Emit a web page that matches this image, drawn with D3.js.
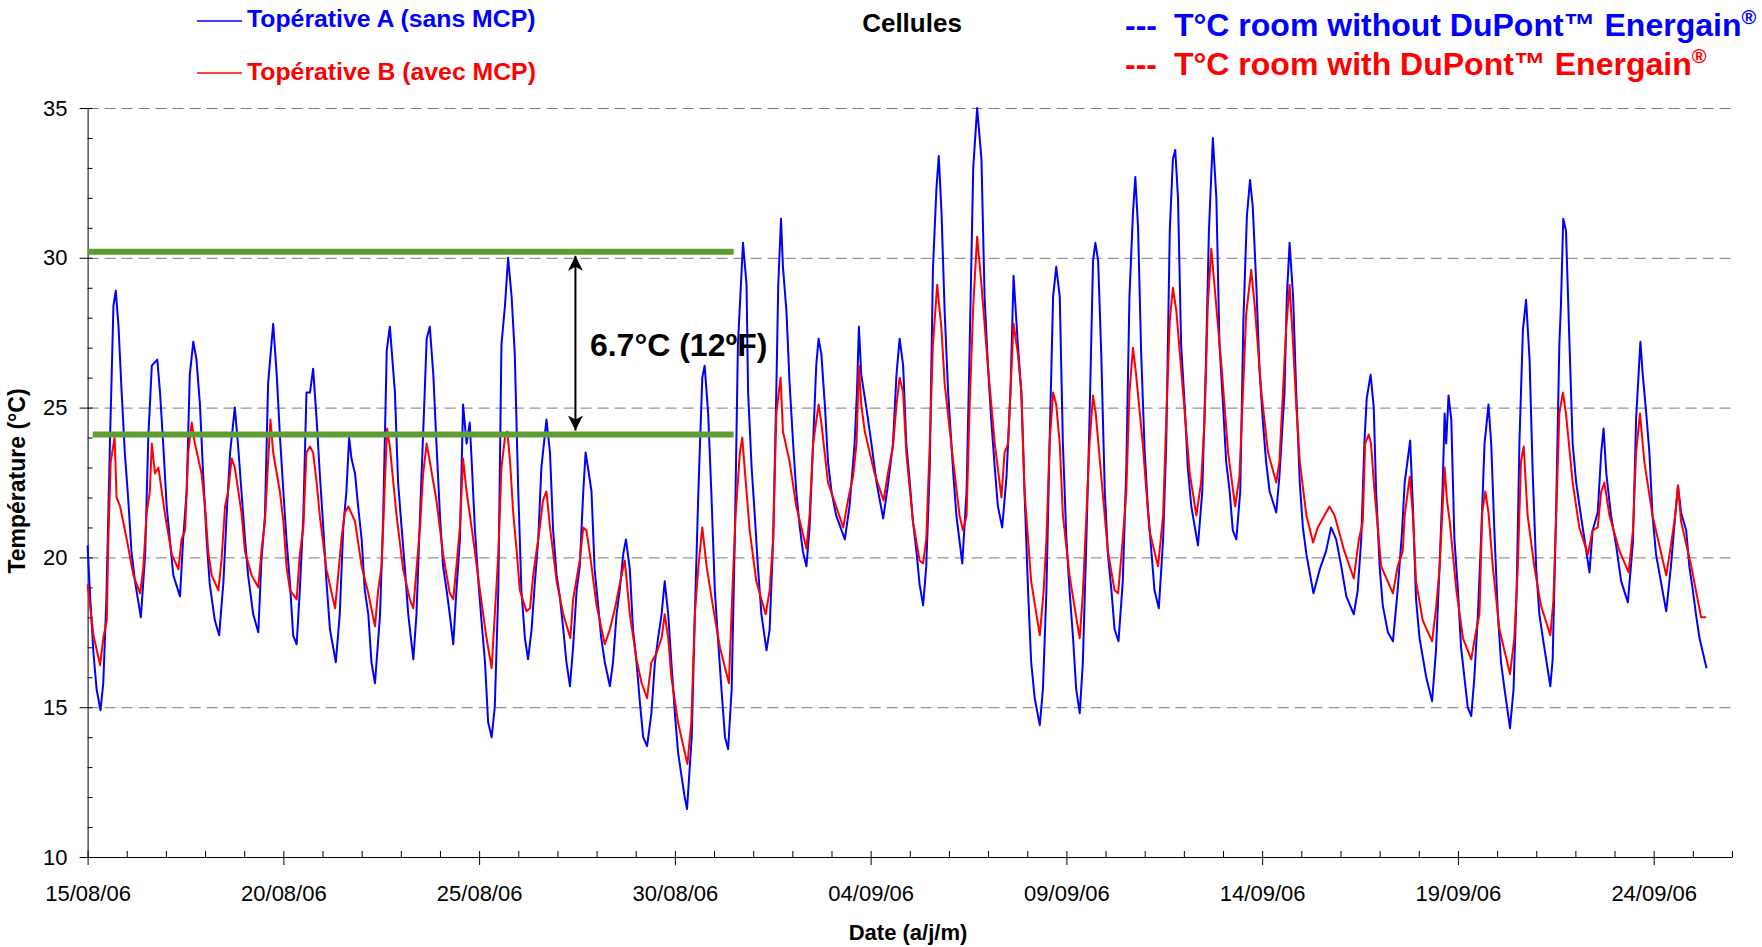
<!DOCTYPE html>
<html>
<head>
<meta charset="utf-8">
<script src="https://cdn.jsdelivr.net/npm/d3@7"></script>
<style>
  body { margin: 0; background: #fff; }
  text { font-family: "Liberation Sans", Arial, Helvetica, sans-serif; }
</style>
</head>
<body>
<svg id="chart"></svg>
<script>
// days since 15/08/06 00:00, temperature in °C
const topA = [
  [0.00,20.4],[0.06,18.8],[0.15,16.8],[0.23,15.6],[0.33,14.9],[0.40,15.8],[0.48,18.6],[0.57,23.8],[0.66,28.4],[0.72,28.9],[0.79,27.7],[0.87,25.5],[0.95,23.5],
  [1.04,21.9],[1.12,20.2],[1.21,19.2],[1.36,18.0],[1.47,20.1],[1.55,24.0],[1.64,26.4],[1.78,26.6],[1.85,25.5],[1.93,23.8],
  [2.02,21.7],[2.10,20.6],[2.19,19.4],[2.36,18.7],[2.44,20.6],[2.53,22.2],[2.61,26.1],[2.70,27.2],[2.78,26.6],[2.87,25.1],[2.95,22.8],
  [3.04,20.6],[3.12,19.1],[3.25,17.9],[3.36,17.4],[3.47,19.2],[3.55,21.4],[3.64,23.5],[3.76,25.0],[3.84,23.8],[3.93,22.2],
  [4.02,20.6],[4.10,19.4],[4.23,18.1],[4.36,17.5],[4.44,19.9],[4.53,21.4],[4.61,25.8],[4.74,27.8],[4.83,26.1],[4.91,24.1],
  [5.00,22.2],[5.08,20.6],[5.17,19.1],[5.25,17.4],[5.34,17.1],[5.42,18.9],[5.51,21.4],[5.59,25.5],[5.68,25.5],[5.76,26.3],[5.85,24.6],[5.93,22.8],
  [6.02,21.0],[6.10,19.2],[6.19,17.6],[6.34,16.5],[6.44,18.1],[6.53,21.0],[6.61,22.2],[6.68,24.0],[6.74,23.3],[6.83,22.8],[6.91,21.7],
  [7.00,20.6],[7.08,18.9],[7.17,18.1],[7.25,16.5],[7.34,15.8],[7.47,18.1],[7.55,21.4],[7.64,26.9],[7.72,27.7],[7.85,25.5],[7.93,22.5],
  [8.02,21.0],[8.10,19.7],[8.19,18.1],[8.32,16.6],[8.40,18.1],[8.49,21.4],[8.61,25.5],[8.66,27.3],[8.74,27.7],[8.83,26.1],[8.91,23.8],
  [9.00,21.4],[9.08,19.7],[9.17,18.9],[9.25,18.1],[9.34,17.1],[9.42,18.9],[9.51,20.6],[9.59,25.1],[9.68,23.8],[9.76,24.5],[9.81,23.2],[9.89,21.0],[9.98,19.2],
  [10.06,17.9],[10.15,16.5],[10.23,14.5],[10.32,14.0],[10.40,15.0],[10.49,18.9],[10.57,27.1],[10.66,28.4],[10.74,30.0],[10.83,28.7],[10.91,26.8],
  [11.00,22.2],[11.08,18.9],[11.17,17.3],[11.25,16.6],[11.34,17.6],[11.42,19.1],[11.51,20.6],[11.59,23.0],[11.72,24.6],[11.81,23.5],[11.89,20.9],[11.98,19.4],
  [12.06,18.7],[12.15,17.6],[12.23,16.5],[12.32,15.7],[12.40,17.0],[12.49,18.9],[12.57,19.7],[12.66,22.2],[12.72,23.5],[12.78,23.0],[12.87,22.2],[12.95,19.6],
  [13.04,18.4],[13.12,17.3],[13.21,16.5],[13.34,15.7],[13.42,16.5],[13.51,18.1],[13.59,18.9],[13.68,20.1],[13.75,20.6],[13.85,19.6],[13.93,17.6],
  [14.02,16.5],[14.11,15.1],[14.19,14.0],[14.29,13.7],[14.40,14.8],[14.49,16.5],[14.57,17.3],[14.66,18.1],[14.74,19.2],[14.83,18.1],[14.91,16.5],
  [15.00,14.8],[15.08,13.5],[15.17,12.7],[15.25,12.0],[15.31,11.6],[15.43,14.0],[15.51,18.1],[15.60,22.2],[15.70,26.0],[15.76,26.4],[15.85,24.8],[15.93,22.2],
  [16.02,18.9],[16.10,17.3],[16.19,15.6],[16.28,14.0],[16.36,13.6],[16.45,15.6],[16.53,20.6],[16.61,27.1],[16.74,30.5],[16.83,29.1],[16.87,25.5],[16.96,23.0],
  [17.04,21.4],[17.12,19.7],[17.21,18.1],[17.34,16.9],[17.42,17.6],[17.51,20.6],[17.59,25.5],[17.64,29.1],[17.71,31.3],[17.76,29.7],[17.85,28.2],[17.93,25.8],
  [18.02,23.8],[18.10,22.2],[18.19,21.0],[18.27,20.2],[18.36,19.7],[18.44,21.0],[18.53,23.8],[18.61,26.4],[18.67,27.3],[18.74,26.8],[18.83,25.1],[18.91,23.2],
  [19.00,22.2],[19.12,21.4],[19.34,20.6],[19.46,21.7],[19.59,23.8],[19.65,25.5],[19.70,27.7],[19.76,26.1],[19.89,25.0],
  [20.02,23.8],[20.15,22.5],[20.32,21.3],[20.44,22.4],[20.57,23.8],[20.66,26.1],[20.74,27.3],[20.83,26.4],[20.91,23.8],
  [21.00,22.5],[21.08,21.2],[21.17,20.2],[21.25,19.1],[21.34,18.4],[21.42,19.7],[21.51,23.0],[21.59,29.6],[21.68,32.3],[21.74,33.4],[21.81,31.5],[21.89,28.2],[21.98,25.5],
  [22.11,22.8],[22.19,21.4],[22.34,19.8],[22.45,22.2],[22.53,27.1],[22.62,33.0],[22.72,35.0],[22.83,33.3],[22.91,28.7],
  [23.00,26.3],[23.08,24.6],[23.17,23.0],[23.25,21.7],[23.36,21.0],[23.47,22.7],[23.57,25.5],[23.65,29.4],[23.76,27.1],[23.85,25.5],[23.93,22.2],
  [24.02,18.9],[24.10,16.5],[24.19,15.3],[24.32,14.4],[24.40,15.6],[24.49,18.9],[24.57,23.8],[24.66,28.7],[24.74,29.7],[24.83,28.7],[24.91,23.8],
  [25.00,20.6],[25.08,18.9],[25.17,17.3],[25.25,15.6],[25.34,14.8],[25.42,16.5],[25.51,20.6],[25.59,24.6],[25.68,29.9],[25.74,30.5],[25.81,29.9],[25.89,26.8],[25.98,22.2],
  [26.06,20.1],[26.15,18.9],[26.23,17.6],[26.33,17.2],[26.44,19.2],[26.53,23.0],[26.61,28.7],[26.70,31.5],[26.76,32.7],[26.83,31.0],[26.91,26.8],
  [27.00,23.5],[27.08,21.7],[27.17,20.2],[27.25,18.9],[27.36,18.3],[27.47,20.6],[27.55,23.8],[27.64,30.9],[27.72,33.3],[27.78,33.6],[27.85,32.0],[27.93,27.1],
  [28.02,25.1],[28.10,23.0],[28.19,21.7],[28.36,20.4],[28.47,22.2],[28.56,26.3],[28.64,30.9],[28.74,34.0],[28.83,32.0],[28.91,27.1],
  [29.00,25.1],[29.08,23.2],[29.17,22.2],[29.25,20.9],[29.34,20.6],[29.44,22.2],[29.52,27.9],[29.61,31.4],[29.69,32.6],[29.76,31.7],[29.85,29.1],[29.93,26.3],
  [30.02,24.5],[30.10,23.2],[30.19,22.2],[30.36,21.5],[30.44,22.7],[30.57,25.5],[30.63,28.7],[30.70,30.5],[30.79,28.7],[30.87,25.5],[30.96,22.5],
  [31.04,21.0],[31.13,20.1],[31.31,18.8],[31.47,19.6],[31.63,20.2],[31.76,21.0],[31.89,20.6],
  [32.02,19.7],[32.15,18.7],[32.34,18.1],[32.44,18.9],[32.53,20.6],[32.61,23.8],[32.67,25.3],[32.77,26.1],[32.85,25.0],[32.91,22.2],
  [33.00,19.7],[33.08,18.4],[33.21,17.5],[33.34,17.2],[33.46,18.9],[33.57,20.8],[33.64,22.5],[33.78,23.9],[33.85,21.7],[33.93,18.6],
  [34.02,17.3],[34.19,16.0],[34.34,15.2],[34.44,16.9],[34.53,19.7],[34.61,22.4],[34.66,24.8],[34.70,23.8],[34.76,25.4],[34.83,24.6],[34.91,20.6],
  [35.00,18.9],[35.08,17.0],[35.25,15.0],[35.34,14.7],[35.42,16.0],[35.51,18.1],[35.59,20.6],[35.68,23.8],[35.78,25.1],[35.85,23.8],[35.93,20.9],
  [36.02,18.1],[36.10,16.5],[36.19,15.6],[36.33,14.3],[36.42,15.6],[36.50,18.9],[36.57,23.8],[36.66,27.6],[36.74,28.6],[36.83,26.6],[36.91,22.8],
  [37.00,19.6],[37.08,18.1],[37.17,17.3],[37.36,15.7],[37.42,16.6],[37.51,21.7],[37.59,27.1],[37.63,28.4],[37.69,31.3],[37.76,30.9],[37.85,27.1],[37.93,23.8],
  [38.02,22.5],[38.14,21.4],[38.36,19.5],[38.44,20.9],[38.57,21.5],[38.66,23.5],[38.72,24.3],[38.79,22.8],[38.91,21.4],
  [39.04,20.4],[39.17,19.2],[39.34,18.5],[39.47,20.5],[39.55,24.6],[39.66,27.2],[39.72,26.1],[39.81,24.8],[39.89,23.5],[39.97,21.4],
  [40.06,20.1],[40.32,18.2],[40.44,19.7],[40.55,21.4],[40.62,22.4],[40.70,21.5],[40.83,20.9],[40.91,19.7],
  [41.00,18.9],[41.08,18.1],[41.17,17.3],[41.35,16.3]
];

const topB = [
  [0.00,19.1],[0.15,17.4],[0.32,16.4],[0.40,17.3],[0.49,17.9],[0.53,20.6],[0.59,23.2],[0.69,24.0],[0.74,22.0],[0.83,21.7],
  [1.00,20.6],[1.17,19.4],[1.34,18.8],[1.42,19.6],[1.51,21.5],[1.59,22.2],[1.64,23.8],[1.72,22.8],[1.81,23.0],[1.98,21.4],
  [2.15,20.1],[2.32,19.6],[2.40,20.6],[2.49,20.9],[2.57,23.5],[2.66,24.5],[2.74,23.8],[2.91,22.8],
  [3.00,21.7],[3.08,20.2],[3.17,19.4],[3.34,18.9],[3.42,19.9],[3.51,21.7],[3.59,22.2],[3.68,23.3],[3.76,23.0],[3.93,21.5],
  [4.02,20.2],[4.19,19.4],[4.36,19.0],[4.44,20.2],[4.53,21.2],[4.61,23.2],[4.67,24.6],[4.74,23.5],[4.91,22.2],
  [5.00,21.2],[5.08,19.7],[5.17,18.9],[5.34,18.6],[5.42,20.1],[5.51,21.0],[5.59,23.5],[5.68,23.7],[5.76,23.5],[5.85,22.5],[5.93,21.4],
  [6.10,19.6],[6.32,18.3],[6.40,19.4],[6.49,20.7],[6.57,21.5],[6.66,21.7],[6.83,21.2],
  [7.00,19.7],[7.17,18.8],[7.34,17.7],[7.42,18.9],[7.51,19.7],[7.59,22.4],[7.65,24.3],[7.72,23.7],[7.89,21.4],
  [8.06,19.6],[8.23,18.6],[8.32,18.3],[8.40,19.6],[8.49,21.0],[8.57,22.8],[8.66,23.8],[8.74,23.2],[8.91,21.9],
  [9.08,20.1],[9.25,18.8],[9.34,18.6],[9.42,19.7],[9.51,21.0],[9.59,23.3],[9.68,22.2],[9.85,20.6],
  [10.02,18.9],[10.19,17.3],[10.32,16.3],[10.40,18.1],[10.49,20.1],[10.57,23.0],[10.66,24.0],[10.72,24.2],[10.79,23.2],[10.87,21.5],[10.96,20.2],
  [11.04,18.9],[11.21,18.2],[11.30,18.3],[11.38,19.4],[11.55,21.0],[11.63,21.9],[11.72,22.2],[11.81,21.0],[11.98,19.2],
  [12.15,18.1],[12.33,17.3],[12.40,18.6],[12.57,19.9],[12.66,21.0],[12.74,20.9],[12.83,20.1],
  [13.00,18.4],[13.21,17.1],[13.34,17.6],[13.47,18.3],[13.59,19.1],[13.72,19.9],[13.85,18.1],
  [14.02,16.6],[14.15,15.8],[14.29,15.3],[14.40,16.5],[14.53,16.8],[14.66,17.3],[14.74,18.1],[14.83,17.3],[14.91,16.0],
  [15.08,14.5],[15.25,13.5],[15.32,13.1],[15.42,14.5],[15.51,18.1],[15.60,19.7],[15.70,21.0],[15.81,19.7],[15.98,18.3],
  [16.15,17.0],[16.38,15.8],[16.47,18.9],[16.55,21.4],[16.66,23.5],[16.72,24.0],[16.83,22.2],[16.91,20.9],
  [17.08,19.2],[17.32,18.1],[17.42,18.9],[17.51,20.6],[17.59,24.8],[17.70,26.0],[17.76,24.2],[17.93,23.2],
  [18.10,21.7],[18.36,20.3],[18.44,21.4],[18.53,23.8],[18.67,25.1],[18.74,24.5],[18.91,22.5],
  [19.17,21.5],[19.30,21.0],[19.42,21.9],[19.55,22.7],[19.64,23.8],[19.70,26.4],[19.76,25.1],[19.85,24.2],
  [20.10,22.8],[20.33,21.9],[20.44,22.8],[20.57,23.7],[20.66,25.1],[20.74,26.0],[20.83,25.5],[20.91,23.5],
  [21.08,21.2],[21.25,19.9],[21.34,19.8],[21.42,20.6],[21.51,23.8],[21.59,27.1],[21.70,29.1],[21.81,27.6],[21.89,25.8],
  [22.11,23.2],[22.27,21.4],[22.36,20.9],[22.45,21.4],[22.53,25.1],[22.62,28.4],[22.72,30.7],[22.83,29.1],
  [23.00,26.3],[23.17,23.8],[23.34,22.0],[23.42,23.5],[23.51,23.8],[23.57,25.5],[23.65,27.8],[23.76,26.8],[23.85,25.5],[23.93,22.2],
  [24.10,19.2],[24.32,17.4],[24.42,18.9],[24.49,20.6],[24.57,23.8],[24.66,25.5],[24.74,25.1],[24.83,23.8],[24.91,21.4],
  [25.08,19.4],[25.25,18.0],[25.34,17.3],[25.42,18.8],[25.51,21.4],[25.59,23.8],[25.68,25.4],[25.75,24.8],[25.89,22.7],
  [26.06,20.2],[26.23,18.9],[26.32,18.8],[26.44,20.6],[26.53,22.2],[26.61,25.5],[26.70,27.0],[26.78,26.1],[26.95,23.8],
  [27.12,20.9],[27.34,19.7],[27.47,21.4],[27.55,24.6],[27.64,27.9],[27.72,29.0],[27.81,28.2],[27.98,25.5],
  [28.15,22.8],[28.32,21.4],[28.44,22.5],[28.53,24.6],[28.61,28.4],[28.70,30.3],[28.78,29.1],[28.96,26.4],
  [29.13,23.5],[29.31,21.7],[29.42,22.7],[29.51,25.5],[29.59,28.1],[29.72,29.6],[29.81,28.4],[29.98,25.5],
  [30.15,23.5],[30.36,22.5],[30.44,23.2],[30.53,25.5],[30.61,27.6],[30.70,29.1],[30.79,27.1],[30.87,25.1],[30.96,23.2],
  [31.13,21.4],[31.30,20.5],[31.42,21.0],[31.59,21.4],[31.72,21.7],[31.85,21.4],
  [32.10,20.2],[32.34,19.3],[32.47,20.6],[32.57,21.2],[32.63,23.8],[32.72,24.1],[32.78,23.8],[32.87,22.2],
  [33.04,19.7],[33.34,18.8],[33.46,19.7],[33.59,20.2],[33.64,21.4],[33.77,22.7],[33.85,21.4],[33.93,19.2],
  [34.10,17.9],[34.34,17.2],[34.44,18.3],[34.53,19.6],[34.61,21.7],[34.66,23.0],[34.72,21.9],[34.79,21.2],[34.96,18.9],
  [35.13,17.3],[35.34,16.6],[35.47,17.6],[35.55,18.1],[35.62,21.5],[35.70,22.2],[35.78,21.5],[35.89,19.7],
  [36.06,17.6],[36.33,16.1],[36.44,17.3],[36.53,19.7],[36.61,23.2],[36.68,23.7],[36.78,21.4],[36.95,19.7],
  [37.12,18.4],[37.36,17.4],[37.44,18.6],[37.51,21.4],[37.59,24.8],[37.68,25.5],[37.76,24.8],[37.93,22.5],
  [38.10,21.0],[38.32,20.1],[38.44,20.9],[38.57,21.0],[38.66,22.2],[38.74,22.5],[38.87,21.4],
  [39.13,20.2],[39.36,19.5],[39.47,20.9],[39.55,23.5],[39.65,24.8],[39.76,23.2],[39.97,21.4],
  [40.32,19.4],[40.44,20.4],[40.55,21.4],[40.62,22.4],[40.70,21.2],[40.96,19.7],
  [41.21,18.0],[41.34,18.0]
];

const dateTicks = [0, 5, 10, 15, 20, 25, 30, 35, 40];
const dateLabels = ["15/08/06", "20/08/06", "25/08/06", "30/08/06", "04/09/06",
                    "09/09/06", "14/09/06", "19/09/06", "24/09/06"];
const tempTicks = [10, 15, 20, 25, 30, 35];
const gridTicks = [15, 20, 25, 30, 35];

// the two green levels and the gap between them
const bandHigh = 30.2, bandLow = 24.1;
const bandLabel = "6.7°C (12ºF)";

const W = 1762, H = 947;
const plotLeft = 87.6, plotRight = 1732, plotTop = 108, plotBottom = 857;

const svg = d3.select("#chart").attr("width", W).attr("height", H);
svg.append("rect").attr("width", W).attr("height", H).attr("fill", "#fff");

const x = d3.scaleLinear().domain([0, 42]).range([plotLeft, plotRight]);
const y = d3.scaleLinear().domain([10, 35]).range([plotBottom, plotTop]);

// dashed grid
const grid = svg.append("g")
  .attr("transform", `translate(${plotLeft},0)`)
  .call(d3.axisLeft(y).tickValues(gridTicks).tickSize(-(plotRight - plotLeft)).tickFormat(""));
grid.select(".domain").remove();
grid.selectAll("line").attr("stroke", "#7a7a7a").attr("stroke-dasharray", "11,6");

// minor ticks
const yMinor = svg.append("g")
  .attr("transform", `translate(${plotLeft},0)`)
  .call(d3.axisLeft(y).tickValues(d3.range(10, 36)).tickSize(-5).tickFormat(""));
yMinor.select(".domain").remove();
yMinor.selectAll("line").attr("stroke", "#000");

const xMinor = svg.append("g")
  .attr("transform", `translate(0,${plotBottom})`)
  .call(d3.axisBottom(x).tickValues(d3.range(0, 43)).tickSize(-6).tickFormat(""));
xMinor.select(".domain").remove();
xMinor.selectAll("line").attr("stroke", "#000");

// main axes
const yAxis = svg.append("g")
  .attr("transform", `translate(${plotLeft},0)`)
  .call(d3.axisLeft(y).tickValues(tempTicks).tickSize(8).tickSizeOuter(0).tickPadding(12));
const xAxis = svg.append("g")
  .attr("transform", `translate(0,${plotBottom})`)
  .call(d3.axisBottom(x).tickValues(dateTicks).tickSize(8).tickSizeOuter(0).tickPadding(20)
    .tickFormat((d, i) => dateLabels[i]));

[yAxis, xAxis].forEach(g => {
  g.selectAll("text").attr("font-size", 22).attr("fill", "#000")
    .attr("font-family", '"Liberation Sans", Arial, sans-serif');
  g.selectAll("line, .domain").attr("stroke", "#000");
});

// series
const line = d3.line().x(d => x(d[0])).y(d => y(d[1]));

svg.append("path").datum(topA)
  .attr("fill", "none").attr("stroke", "#0000ff").attr("stroke-width", 2)
  .attr("stroke-linejoin", "round").attr("d", line);
svg.append("path").datum(topB)
  .attr("fill", "none").attr("stroke", "#ff0000").attr("stroke-width", 2)
  .attr("stroke-linejoin", "round").attr("d", line);

// green band annotation
const green = "#5e9e30";
svg.append("line")
  .attr("x1", x(0)).attr("x2", x(16.5))
  .attr("y1", y(bandHigh)).attr("y2", y(bandHigh))
  .attr("stroke", green).attr("stroke-width", 6);
svg.append("line")
  .attr("x1", x(0.13)).attr("x2", x(16.5))
  .attr("y1", y(bandLow)).attr("y2", y(bandLow))
  .attr("stroke", green).attr("stroke-width", 6);

svg.append("defs").append("marker")
  .attr("id", "head")
  .attr("markerUnits", "userSpaceOnUse")
  .attr("markerWidth", 16).attr("markerHeight", 16)
  .attr("refX", 15).attr("refY", 7.5)
  .attr("orient", "auto-start-reverse")
  .append("path")
  .attr("d", "M0,0 L15,7.5 L0,15 L4,7.5 Z")
  .attr("fill", "#000");

svg.append("line")
  .attr("x1", x(12.46)).attr("x2", x(12.46))
  .attr("y1", y(bandHigh) + 4).attr("y2", y(bandLow) - 4)
  .attr("stroke", "#000").attr("stroke-width", 2)
  .attr("marker-start", "url(#head)").attr("marker-end", "url(#head)");

svg.append("text")
  .attr("x", x(12.83)).attr("y", y(26.72))
  .attr("font-size", 32).attr("font-weight", "bold").attr("fill", "#000")
  .text(bandLabel);

// axis titles
svg.append("text")
  .attr("transform", `translate(25,481) rotate(-90)`)
  .attr("text-anchor", "middle")
  .attr("font-size", 23).attr("font-weight", "bold")
  .text("Température (°C)");

svg.append("text")
  .attr("x", 908).attr("y", 940)
  .attr("text-anchor", "middle")
  .attr("font-size", 22).attr("font-weight", "bold")
  .text("Date (a/j/m)");

svg.append("text")
  .attr("x", 912).attr("y", 32)
  .attr("text-anchor", "middle")
  .attr("font-size", 26).attr("font-weight", "bold")
  .text("Cellules");

// legend, left
const legendLeft = [
  { label: "Topérative A (sans MCP)", color: "#0000ff", ly: 21, ty: 27 },
  { label: "Topérative B (avec MCP)", color: "#ff0000", ly: 73, ty: 80 }
];
legendLeft.forEach(l => {
  svg.append("line").attr("x1", 197).attr("x2", 242).attr("y1", l.ly).attr("y2", l.ly)
    .attr("stroke", l.color).attr("stroke-width", 1.5);
  svg.append("text").attr("x", 247).attr("y", l.ty)
    .attr("font-size", 24.8).attr("font-weight", "bold").attr("fill", l.color)
    .text(l.label);
});

// legend, right
const legendRight = [
  { label: "T°C room without DuPont™ Energain", color: "#0000ff", ty: 36 },
  { label: "T°C room with DuPont™ Energain", color: "#ff0000", ty: 75 }
];
legendRight.forEach(l => {
  svg.append("text").attr("x", 1125).attr("y", l.ty)
    .attr("font-size", 32).attr("font-weight", "bold").attr("fill", l.color)
    .text("---");
  const t = svg.append("text").attr("x", 1174).attr("y", l.ty)
    .attr("font-size", 32).attr("font-weight", "bold").attr("fill", l.color);
  t.append("tspan").text(l.label);
  t.append("tspan").attr("font-size", 20).attr("dy", -12).text("®");
});
</script>
</body>
</html>
